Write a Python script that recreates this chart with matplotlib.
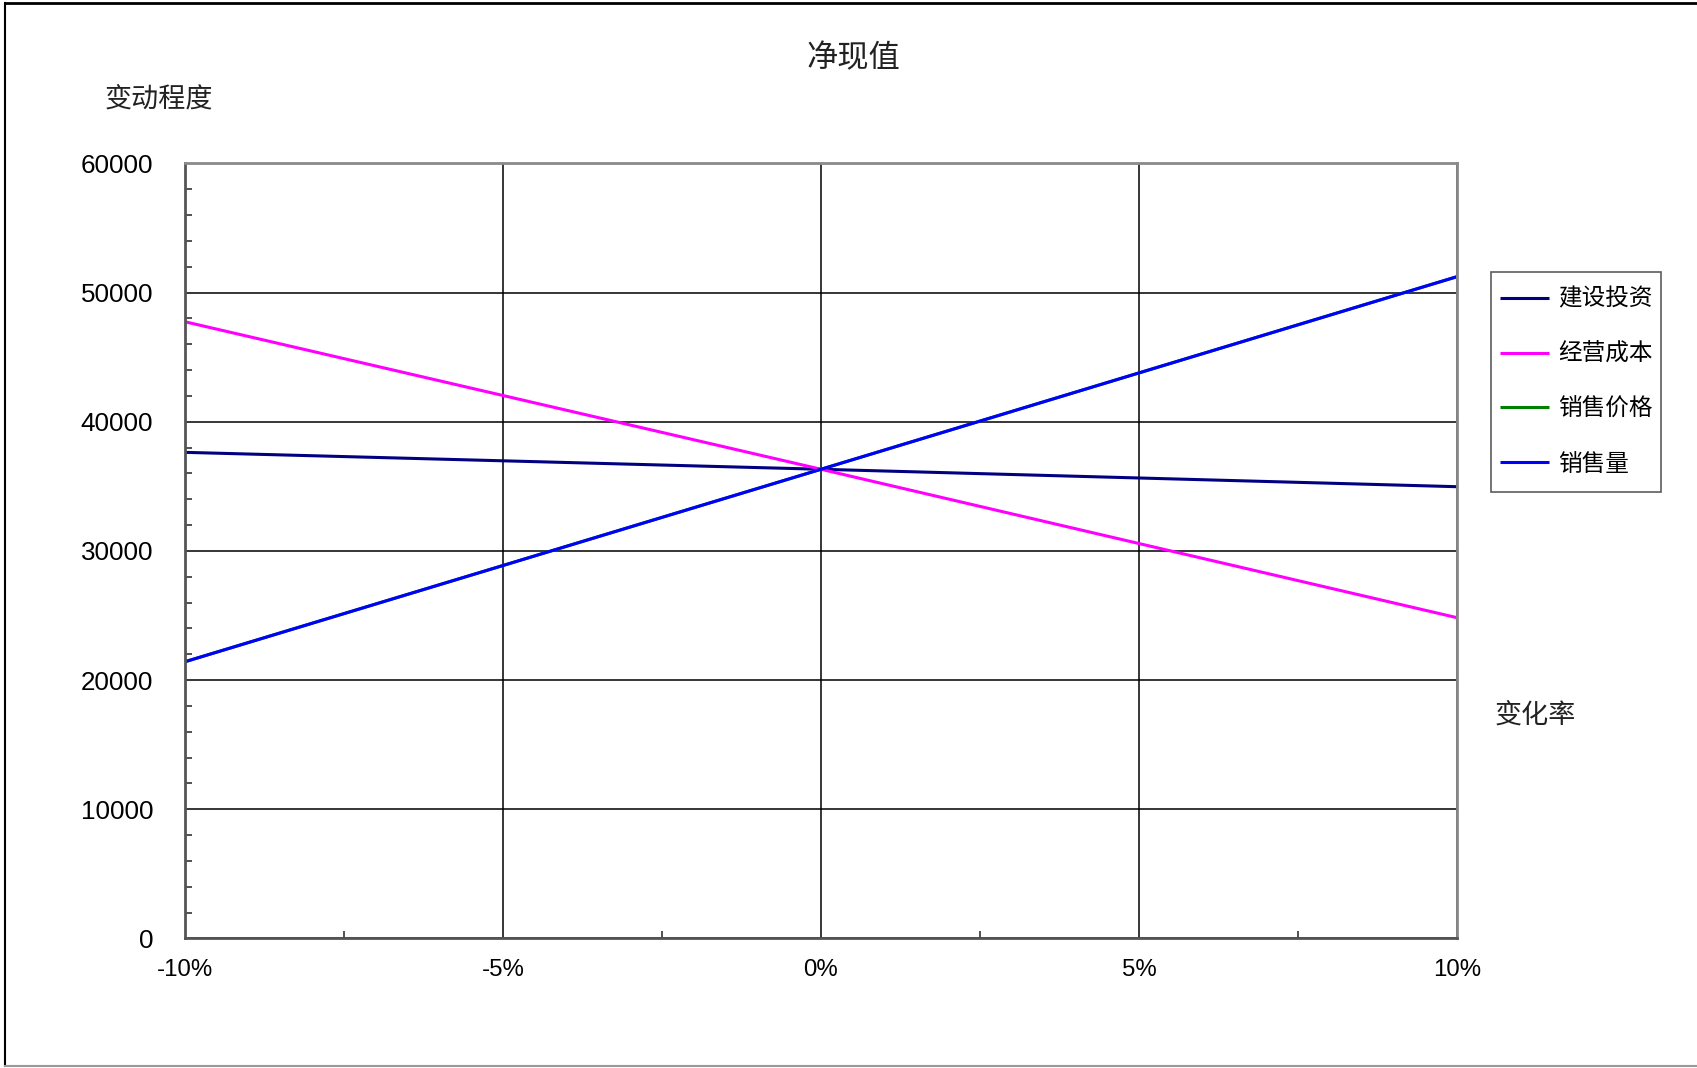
import matplotlib
matplotlib.use("Agg")
import matplotlib.pyplot as plt
from matplotlib.lines import Line2D
from matplotlib.ticker import MultipleLocator, FuncFormatter

plt.rcParams['font.family'] = ['Liberation Sans', 'Noto Sans CJK SC', 'DejaVu Sans']

change_rate = [-0.10, -0.05, 0.0, 0.05, 0.10]
series_names = ['建设投资', '经营成本', '销售价格', '销售量']
invest = [37630, 36975, 36320, 35645, 34970]
op_cost = [47740, 42030, 36320, 30570, 24830]
sale_price = [21420, 28870, 36320, 43780, 51230]
sale_volume = [21420, 28870, 36320, 43780, 51230]
colors = ['#000080', '#FF00FF', '#008000', '#0000FF']

fig = plt.figure(figsize=(16.97, 10.68), dpi=100)
ax = fig.add_axes([185/1697, 1-938.4/1068, (1457-185)/1697, (938.4-163.4)/1068])

for name, vals, c in zip(series_names, [invest, op_cost, sale_price, sale_volume], colors):
    ax.plot(change_rate, vals, color=c, lw=2.2, label=name, solid_capstyle='butt')

ax.set_xlim(-0.10, 0.10)
ax.set_ylim(0, 60000)
ax.xaxis.set_major_locator(MultipleLocator(0.05))
ax.xaxis.set_minor_locator(MultipleLocator(0.025))
ax.yaxis.set_major_locator(MultipleLocator(10000))
ax.yaxis.set_minor_locator(MultipleLocator(2000))
ax.xaxis.set_major_formatter(FuncFormatter(lambda v, p: f"{round(v*100):d}%"))
ax.yaxis.set_major_formatter(FuncFormatter(lambda v, p: f"{int(round(v))}"))
ax.grid(True, which='major', color='black', lw=1.1)
ax.set_axisbelow(True)
ax.tick_params(axis='both', which='both', direction='in', color='#333333')
ax.tick_params(axis='y', which='major', length=0, pad=23, labelsize=18.7)
ax.tick_params(axis='x', which='major', length=0, pad=15, labelsize=17.3)
ax.tick_params(axis='y', which='minor', length=5, width=1.2)
ax.tick_params(axis='x', which='minor', length=5, width=1.2)
for s in ['left', 'bottom']:
    ax.spines[s].set_color('#555555')
    ax.spines[s].set_linewidth(2.0)
for s in ['top', 'right']:
    ax.spines[s].set_color('#8a8a8a')
    ax.spines[s].set_linewidth(2.0)

leg = ax.legend(loc='upper left', bbox_to_anchor=(1499.7/1697, 1-287.9/1068),
                bbox_transform=fig.transFigure, prop={'family': ['Noto Sans CJK SC'], 'size': 17},
                frameon=True, fancybox=False, edgecolor='#333333', borderpad=0.0,
                labelspacing=1.35, handlelength=2.1,
                handletextpad=0.37, borderaxespad=0)
frame = leg.get_frame()
frame.set_linewidth(1.2)
frame.set_boxstyle('square', pad=0.37)
frame.set_mutation_aspect(1.86)
for h in leg.get_lines():
    h.set_linewidth(2.2)

cjk = ['Noto Sans CJK SC', 'DejaVu Sans']
fig.text(853/1697, 1-58/1068, '净现值', ha='center', va='center', fontsize=22.5, family=cjk, color='#222222')
fig.text(159/1697, 1-99/1068, '变动程度', ha='center', va='center', fontsize=19.5, family=cjk, color='#222222')
fig.text(1535/1697, 1-715/1068, '变化率', ha='center', va='center', fontsize=19.5, family=cjk, color='#222222')

# figure border
fig.add_artist(Line2D([4.5/1697, 4.5/1697], [1-2.5/1068, 1-1066/1068], transform=fig.transFigure, color='black', lw=1.5))
fig.add_artist(Line2D([4.5/1697, 1.0], [1-2.5/1068, 1-2.5/1068], transform=fig.transFigure, color='black', lw=2.0))
fig.add_artist(Line2D([4.5/1697, 1.0], [1-1066/1068, 1-1066/1068], transform=fig.transFigure, color='#999999', lw=1.5))

fig.savefig('out.png', dpi=100, facecolor='white')
